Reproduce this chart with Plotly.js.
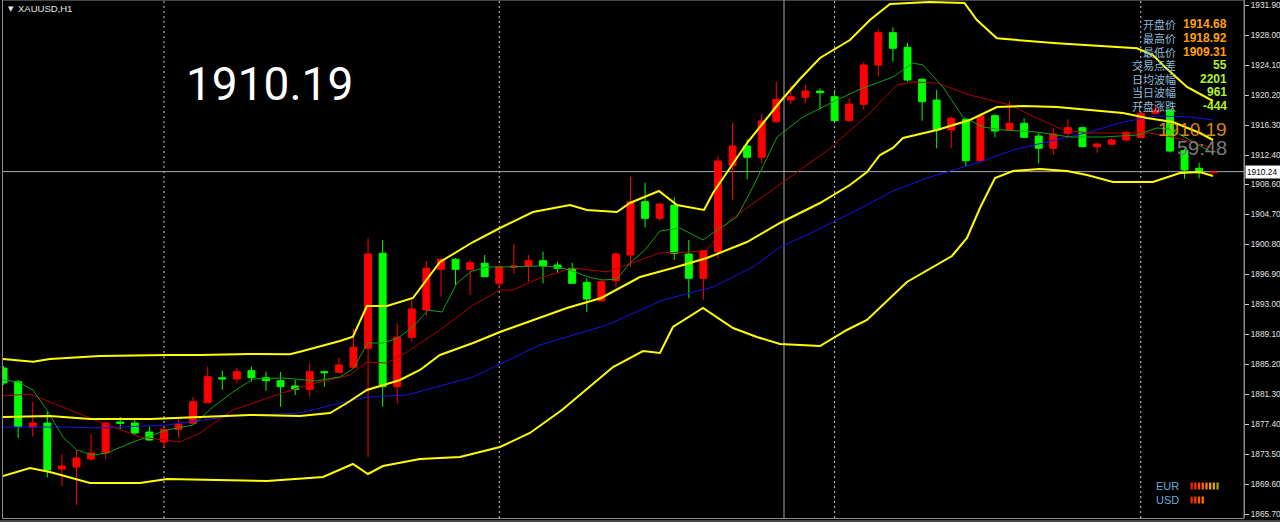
<!DOCTYPE html>
<html>
<head>
<meta charset="utf-8">
<script src="https://cdn.plot.ly/plotly-3.0.1.min.js"></script>
<style>
html,body{margin:0;padding:0;background:#000;}
#chart{width:1280px;height:522px;}
</style>
</head>
<body>
<div id="chart"></div>
<script>
// ---- candle data (XAUUSD H1), one entry per bar ----
const openP = [1884.71,1882.93,1877.04,1877.56,1871.58,1871.84,1872.88,1873.66,1877.69,1877.56,
1876.39,1875.09,1876.74,1877.52,1880.20,1883.45,1883.28,1884.36,1883.45,1883.06,
1882.37,1881.94,1884.23,1884.15,1884.80,1887.27,1899.62,1882.28,1888.70,1892.25,
1897.54,1898.84,1897.54,1898.32,1895.72,1897.80,1897.97,1898.66,1898.10,1897.67,
1895.85,1893.46,1896.06,1899.40,1906.33,1904.17,1905.86,1899.53,1896.37,1899.83,
1911.01,1913.57,1912.10,1916.73,1919.55,1919.90,1920.72,1919.98,1916.86,1918.99,
1924.10,1928.30,1926.40,1922.24,1919.55,1915.65,1917.04,1911.66,1917.51,1915.65,
1916.52,1914.87,1913.27,1915.22,1915.95,1913.48,1913.79,1914.35,1914.68,1917.82,
1918.19,1912.96,1910.67,1910.10];
const highP = [1884.97,1883.15,1880.33,1879.03,1873.53,1874.05,1876.13,1877.73,1878.34,1877.95,
1877.08,1877.04,1878.08,1880.94,1884.88,1884.36,1884.75,1884.88,1884.23,1884.19,
1883.15,1885.32,1884.36,1886.10,1889.87,1901.57,1901.35,1890.52,1893.77,1898.62,
1899.01,1899.01,1898.75,1899.40,1898.10,1900.83,1899.40,1899.83,1898.53,1898.40,
1896.37,1896.15,1899.83,1909.58,1908.80,1906.20,1906.90,1901.35,1900.05,1912.27,
1916.60,1914.44,1917.73,1921.93,1921.50,1921.50,1921.07,1920.85,1919.77,1924.53,
1928.74,1929.00,1927.00,1922.37,1920.85,1917.38,1917.17,1917.60,1917.73,1919.33,
1917.17,1915.22,1915.87,1917.04,1916.08,1914.00,1914.57,1915.56,1917.90,1918.92,
1918.47,1913.20,1911.40,1910.30];
const lowP = [1882.50,1875.61,1875.78,1870.50,1869.37,1866.90,1872.66,1872.88,1876.78,1876.00,
1875.26,1874.31,1875.61,1877.43,1880.16,1881.85,1882.76,1882.93,1881.76,1879.68,
1881.20,1880.98,1882.28,1884.02,1884.71,1873.14,1879.68,1880.12,1888.13,1891.47,
1893.98,1895.50,1894.20,1896.54,1895.07,1896.93,1895.93,1895.72,1897.02,1895.63,
1892.03,1893.33,1895.20,1897.84,1903.00,1903.86,1898.75,1893.77,1893.55,1898.97,
1906.55,1909.24,1911.32,1916.60,1919.03,1919.12,1918.34,1916.82,1916.73,1918.34,
1922.58,1924.53,1921.93,1916.86,1913.27,1913.27,1910.88,1911.53,1914.70,1915.56,
1914.57,1911.32,1912.40,1914.57,1913.40,1912.70,1913.70,1914.13,1914.60,1917.69,
1912.70,1909.31,1909.37,1910.05];
const closeP = [1882.76,1877.08,1877.56,1871.45,1871.97,1873.01,1873.66,1877.56,1877.52,1876.26,
1875.35,1876.74,1877.43,1880.33,1883.58,1883.28,1884.23,1883.45,1883.06,1882.28,
1881.94,1884.23,1884.10,1885.10,1887.40,1899.53,1882.28,1888.74,1892.38,1897.67,
1898.84,1897.54,1898.40,1896.58,1897.88,1897.97,1898.66,1897.97,1897.67,1895.72,
1893.68,1895.93,1899.53,1906.33,1904.17,1906.03,1899.62,1896.37,1899.96,1911.62,
1913.57,1912.10,1916.82,1919.64,1919.98,1920.72,1920.50,1916.86,1919.03,1924.10,
1928.30,1926.27,1922.15,1919.33,1915.65,1917.17,1911.66,1917.47,1915.52,1916.52,
1914.70,1913.27,1915.13,1915.95,1913.48,1913.83,1914.35,1915.35,1917.82,1918.25,
1912.92,1910.45,1910.10,1910.19];
const barIndex = openP.map((_, i) => i);

// ---- indicator lines, read at sample bar positions ----
const bbUpperX = [-0.04,2.02,3.18,6.61,11.21,13.47,16.9,19.64,20.33,21.7,23.07,23.96,24.92,26.3,28.08,29.93,32.2,34.05,36.31,38.85,40.01,42.07,42.96,44.95,46.19,48.04,48.66,50.99,53.25,54.62,56.0,58.05,59.42,60.8,63.5,65.9,66.76,68.13,72.25,77.74,78.83,79.66,81.17,82.95];
const bbUpper  = [1885.88,1885.53,1885.88,1886.27,1886.40,1886.40,1886.53,1886.49,1886.83,1887.48,1888.22,1888.78,1892.77,1892.77,1893.81,1898.49,1901.09,1902.91,1904.99,1905.90,1905.25,1904.99,1906.16,1907.72,1905.90,1905.25,1907.46,1913.96,1919.29,1922.28,1925.01,1927.35,1929.95,1932.03,1932.29,1932.16,1929.95,1927.57,1926.92,1926.27,1925.40,1923.84,1921.24,1919.42];
const bbMidX = [-0.04,3.18,5.93,10.04,13.47,16.9,20.33,22.39,23.55,24.92,27.19,28.56,29.93,32.2,34.05,36.31,38.64,40.99,43.65,45.91,48.24,50.99,53.25,56.0,58.05,59.22,60.11,61.0,61.69,64.02,66.28,68.13,69.92,72.25,74.51,76.78,78.42,80.2,82.06,82.95];
const bbMid  = [1878.34,1878.47,1878.08,1878.08,1878.34,1878.60,1878.47,1878.86,1880.16,1881.85,1883.15,1884.45,1886.40,1887.96,1889.39,1890.95,1892.51,1893.81,1896.54,1897.71,1899.01,1901.09,1903.56,1906.16,1908.50,1910.19,1912.40,1913.31,1914.61,1915.65,1916.95,1918.64,1918.77,1918.64,1918.25,1917.86,1917.21,1916.69,1915.26,1914.35];
const bbLowerX = [-0.04,1.81,3.18,5.93,9.36,11.21,14.64,18.07,21.91,23.96,24.99,26.02,28.56,31.3,34.05,36.1,38.3,41.8,43.86,45.02,45.91,47.97,50.03,51.67,53.25,56.0,57.84,59.22,61.96,63.06,65.05,66.08,66.97,68.0,69.23,71.08,72.94,74.31,76.09,78.83,80.69,82.06,82.95];
const bbLower  = [1870.67,1871.71,1871.19,1869.76,1869.76,1870.28,1870.15,1870.02,1870.54,1872.23,1870.93,1871.97,1872.88,1873.14,1874.44,1876.26,1879.25,1884.84,1886.92,1886.66,1890.04,1892.51,1889.91,1888.74,1887.83,1887.57,1889.65,1890.95,1895.89,1897.06,1899.27,1901.61,1905.51,1909.41,1910.32,1910.58,1910.32,1909.80,1908.89,1908.89,1910.06,1910.19,1909.67];
const maBlueX = [-0.04,4.35,6.61,11.21,15.73,20.33,23.07,24.92,27.67,32.2,36.79,41.38,45.23,48.66,51.4,53.25,55.1,57.02,58.94,61.0,63.33,64.7,66.97,69.23,72.66,74.51,76.78,79.11,81.37,82.95];
const maBlue  = [1877.04,1877.04,1876.91,1877.30,1878.47,1878.86,1880.16,1880.94,1881.20,1883.54,1887.70,1890.30,1893.55,1895.24,1897.84,1900.44,1902.00,1903.82,1905.64,1907.72,1909.41,1910.19,1911.49,1913.05,1914.61,1915.39,1916.69,1917.47,1917.34,1916.95];
const maRedX = [-0.04,1.81,6.61,9.36,12.1,13.47,15.73,18.07,20.33,23.76,24.92,26.3,27.67,29.93,32.2,34.05,34.94,36.79,39.05,41.38,42.75,45.02,47.08,48.24,49.82,54.62,56.55,59.42,61.28,62.37,64.02,66.28,69.03,70.88,72.66,74.51,76.78,78.63,80.2,82.95];
const maRed  = [1881.07,1881.33,1877.69,1875.74,1875.09,1876.26,1879.25,1880.81,1882.24,1883.80,1885.49,1885.36,1886.79,1889.65,1892.90,1894.85,1894.85,1896.41,1897.71,1897.19,1898.10,1899.66,1899.79,1900.05,1903.95,1910.45,1913.05,1917.86,1921.50,1921.89,1921.76,1920.20,1918.90,1917.21,1915.65,1915.26,1915.26,1915.26,1914.74,1913.31];
const maGreenX = [-0.04,0.99,2.02,3.05,4.07,5.03,6.13,7.09,8.87,11.21,12.99,14.36,15.73,17.11,19.16,21.49,22.59,23.07,23.96,24.99,26.02,27.05,28.08,29.11,30.07,31.1,32.13,33.16,34.05,36.79,38.03,39.05,40.08,41.11,42.07,42.96,43.99,45.02,46.39,47.97,49.14,50.3,51.4,53.05,54.83,57.16,58.94,61.0,62.37,63.06,64.43,65.8,67.17,68.55,70.88,73.14,75.4,77.74,79.11,80.0,81.37,82.95];
const maGreen  = [1883.15,1882.89,1881.85,1879.00,1875.74,1874.05,1873.40,1873.66,1875.09,1876.65,1877.30,1879.64,1881.59,1883.28,1883.41,1883.02,1883.41,1883.54,1884.58,1887.96,1887.96,1888.61,1890.04,1892.25,1891.99,1895.76,1897.32,1897.84,1897.84,1897.97,1897.84,1897.32,1896.54,1896.15,1896.28,1898.36,1900.05,1902.52,1902.91,1901.35,1902.91,1904.34,1908.24,1914.74,1917.34,1919.55,1921.11,1922.54,1924.36,1924.10,1921.24,1917.34,1916.04,1915.65,1915.39,1914.74,1914.74,1915.00,1915.91,1915.78,1914.35,1912.66];

// ---- axis ticks and panel texts ----
const priceTicks = [1931.90,1928.00,1924.10,1920.20,1916.30,1912.40,1908.60,1904.70,1900.80,1896.90,1893.00,1889.10,1885.20,1881.30,1877.40,1873.50,1869.60,1865.70];
const priceTickText = ["1931.90","1928.00","1924.10","1920.20","1916.30","1912.40","1908.60","1904.70","1900.80","1896.90","1893.00","1889.10","1885.20","1881.30","1877.40","1873.50","1869.60","1865.70"];
const daySeparators = [11, 34, 57, 78];
const infoLabels = ["开盘价","最高价","最低价","交易点差","日均波幅","当日波幅","开盘涨跌"];
const infoValues = ["1914.68","1918.92","1909.31","55","2201","961","-444"];
const lastPrice = "1910.19";
const bidLabel = "1910.24";
const bidPrice = 1910.24;
const countdown = "59:48";
const symbolTitle = "XAUUSD,H1";

// ---- pixel helpers (plot area 3..1244 x 0..518) ----
const PL = 3, PR = 1244, PT = 0, PB = 518;
const fx = p => (p - PL) / (PR - PL);
const fy = p => 1 - (p - PT) / (PB - PT);

const traces = [
  {
    type: 'candlestick', x: barIndex, open: openP, high: highP, low: lowP, close: closeP,
    increasing: {line: {color: '#FF0000', width: 1}, fillcolor: '#FF0000'},
    decreasing: {line: {color: '#00FF00', width: 1}, fillcolor: '#00FF00'},
    whiskerwidth: 0, hoverinfo: 'skip', showlegend: false
  },
  {type: 'scatter', mode: 'lines', x: maBlueX, y: maBlue, line: {color: '#1414E6', width: 1}, hoverinfo: 'skip'},
  {type: 'scatter', mode: 'lines', x: maRedX, y: maRed, line: {color: '#B00000', width: 1}, hoverinfo: 'skip'},
  {type: 'scatter', mode: 'lines', x: maGreenX, y: maGreen, line: {color: '#12A012', width: 1}, hoverinfo: 'skip'},
  {type: 'scatter', mode: 'lines', x: bbUpperX, y: bbUpper, line: {color: '#FFFF00', width: 2}, hoverinfo: 'skip'},
  {type: 'scatter', mode: 'lines', x: bbMidX, y: bbMid, line: {color: '#FFFF00', width: 2}, hoverinfo: 'skip'},
  {type: 'scatter', mode: 'lines', x: bbLowerX, y: bbLower, line: {color: '#FFFF00', width: 2}, hoverinfo: 'skip'}
];

const shapes = [];
daySeparators.forEach(d => shapes.push({type: 'line', xref: 'x', yref: 'paper', x0: d, x1: d, y0: 0, y1: 1,
  line: {color: '#D0D0D0', width: 1, dash: '2px,3px'}, layer: 'below'}));
// crosshair
shapes.push({type: 'line', xref: 'paper', yref: 'paper', x0: fx(784), x1: fx(784), y0: 0, y1: 1, line: {color: '#A8A8A8', width: 1}, layer: 'below'});
shapes.push({type: 'line', xref: 'paper', yref: 'y', x0: 0, x1: 1, y0: bidPrice, y1: bidPrice, line: {color: '#A8A8A8', width: 1}, layer: 'below'});
// frame
shapes.push({type: 'rect', xref: 'paper', yref: 'paper', x0: fx(2.5), x1: fx(1244), y0: fy(518.5), y1: fy(0), line: {color: '#8C8C8C', width: 1}});
shapes.push({type: 'line', xref: 'paper', yref: 'paper', x0: fx(0), x1: fx(1280), y0: fy(521), y1: fy(521), line: {color: '#8C8C8C', width: 1}});
// currency strength bars
const eurColors = ['#FF1A00','#FF2E00','#FF4600','#FF6000','#FF7C00','#F49A00','#D2A800','#AAA000'];
const usdColors = ['#FF1A00','#FF3C00','#FF5C00','#FF7400'];
eurColors.forEach((c, k) => shapes.push({type: 'rect', xref: 'paper', yref: 'paper',
  x0: fx(1190.5 + 3.7 * k), x1: fx(1192.8 + 3.7 * k), y0: fy(489.5), y1: fy(482.5), fillcolor: c, line: {width: 0}}));
usdColors.forEach((c, k) => shapes.push({type: 'rect', xref: 'paper', yref: 'paper',
  x0: fx(1190.5 + 3.7 * k), x1: fx(1192.8 + 3.7 * k), y0: fy(503.5), y1: fy(496.5), fillcolor: c, line: {width: 0}}));

const ann = [];
ann.push({xref: 'paper', yref: 'paper', x: fx(6), y: fy(9), xanchor: 'left', yanchor: 'middle', showarrow: false,
  text: '▼', font: {family: 'DejaVu Sans', size: 7, color: '#E6E6E6'}});
ann.push({xref: 'paper', yref: 'paper', x: fx(16), y: fy(9), xanchor: 'left', yanchor: 'middle', showarrow: false,
  text: symbolTitle, font: {family: 'Liberation Sans, Arial', size: 9.5, color: '#E6E6E6'}});
ann.push({xref: 'paper', yref: 'paper', x: fx(269), y: fy(84), xanchor: 'center', yanchor: 'middle', showarrow: false,
  text: lastPrice, font: {family: 'Roboto, sans-serif', size: 46, color: '#FFFFFF'}});
const rowY = [24, 38, 52, 65, 79, 92, 106];
infoLabels.forEach((t, k) => {
  ann.push({xref: 'paper', yref: 'paper', x: fx(1178), y: fy(rowY[k]), xanchor: 'right', yanchor: 'middle', showarrow: false,
    text: t, font: {family: 'Noto Sans CJK SC', size: 11, color: '#8CB8D8'}});
  ann.push({xref: 'paper', yref: 'paper', x: fx(1229), y: fy(rowY[k]), xanchor: 'right', yanchor: 'middle', showarrow: false,
    text: '<b>' + infoValues[k] + '</b>', font: {family: 'Liberation Sans, Arial', size: 12, color: k < 3 ? '#FFA000' : '#B4F02A'}});
});
ann.push({xref: 'paper', yref: 'paper', x: fx(1229), y: fy(130), xanchor: 'right', yanchor: 'middle', showarrow: false,
  text: lastPrice, font: {family: 'Liberation Sans, Arial', size: 19, color: 'rgba(240,150,30,0.9)'}});
ann.push({xref: 'paper', yref: 'paper', x: fx(1229), y: fy(148), xanchor: 'right', yanchor: 'middle', showarrow: false,
  text: countdown, font: {family: 'Liberation Sans, Arial', size: 20, color: '#7A7A7A'}});
ann.push({xref: 'paper', yref: 'paper', x: fx(1154), y: fy(486), xanchor: 'left', yanchor: 'middle', showarrow: false,
  text: 'EUR', font: {family: 'Liberation Sans, Arial', size: 11, color: '#6CA8D8'}});
ann.push({xref: 'paper', yref: 'paper', x: fx(1154), y: fy(500), xanchor: 'left', yanchor: 'middle', showarrow: false,
  text: 'USD', font: {family: 'Liberation Sans, Arial', size: 11, color: '#6CA8D8'}});
ann.push({xref: 'paper', yref: 'y', x: fx(1245), y: bidPrice, xanchor: 'left', yanchor: 'middle', showarrow: false,
  text: bidLabel, bgcolor: '#FFFFFF', borderpad: 1, width: 33, align: 'left',
  font: {family: 'Liberation Sans, Arial', size: 8.3, color: '#000000'}});

const layout = {
  width: 1280, height: 522,
  margin: {l: PL, r: 1280 - PR, t: PT, b: 522 - PB, pad: 0},
  paper_bgcolor: '#000000', plot_bgcolor: '#000000',
  showlegend: false, boxgap: 0.32,
  xaxis: {range: [-0.04, 85.08], visible: false, showgrid: false, zeroline: false, rangeslider: {visible: false}, fixedrange: true},
  yaxis: {range: [1865.21, 1932.55], side: 'right', showgrid: false, zeroline: false,
    showline: true, linecolor: '#8C8C8C', linewidth: 1, ticks: 'outside', ticklen: 4, tickcolor: '#C8C8C8',
    ticklabeloverflow: 'allow',
    tickvals: priceTicks, ticktext: priceTickText, tickfont: {family: 'Liberation Sans, Arial', size: 8.3, color: '#E0E0E0'},
    fixedrange: true},
  shapes: shapes, annotations: ann
};

Plotly.newPlot('chart', traces, layout, {staticPlot: true, displayModeBar: false});
</script>
</body>
</html>
